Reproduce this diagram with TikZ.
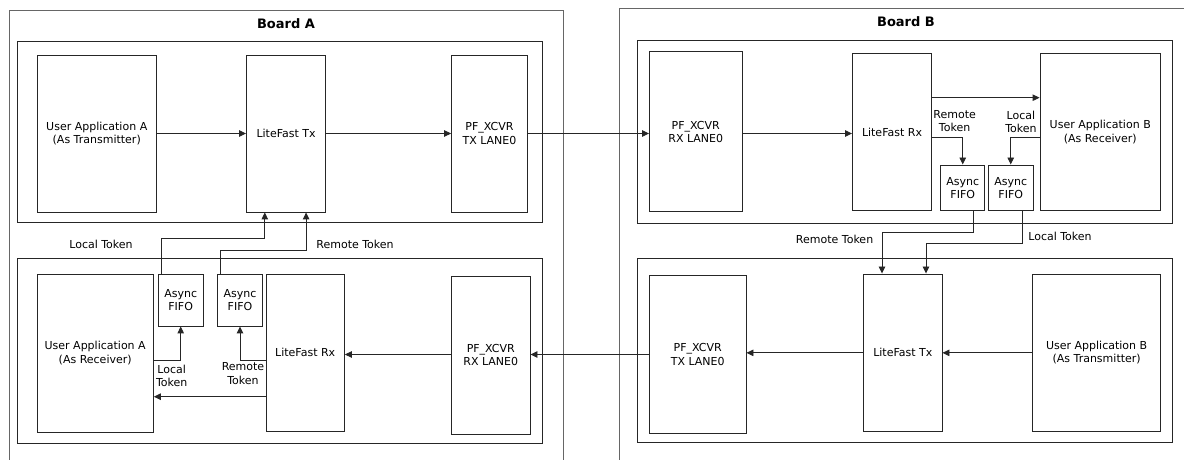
\documentclass[tikz,border=0pt]{standalone}
\usepackage{fontspec}
\setmainfont{DejaVu Sans}
\usetikzlibrary{arrows.meta}

\begin{document}
\begin{tikzpicture}[x=1bp,y=-1bp]
\tikzset{block style/.style={shape=rectangle,draw=black!85,line width=0.9bp,inner sep=0pt,align=center,font=\fontsize{11bp}{13.3bp}\selectfont}}
\tikzset{label style/.style={inner sep=0pt,align=center,font=\fontsize{11bp}{13.3bp}\selectfont}}
\tikzset{frame style/.style={draw=black!85,line width=0.9bp}}
\tikzset{board style/.style={draw=black!60,line width=0.9bp}}
\tikzset{link style/.style={draw=black!85,line width=0.9bp,->,>={Triangle[length=7bp,width=6.5bp]}}}

\useasboundingbox (0,0) rectangle (1184,460);

% boards
\draw[board style] (9.5,462) |- (563.5,10) -- (563.5,462);
\draw[board style] (619.5,462) |- (1186,8);
\node[font=\bfseries\fontsize{13bp}{15bp}\selectfont] at (286,24)  (boardA) {Board A};
\node[font=\bfseries\fontsize{13bp}{15bp}\selectfont] at (906,21.7) (boardB) {Board B};

\draw[frame style] (17.2,41.7) rectangle (542.7,222.7);
\draw[frame style] (17.2,258.5) rectangle (542.7,443.5);
\draw[frame style] (637,40) rectangle (1172.5,223);
\draw[frame style] (637,258.3) rectangle (1172.5,442.3);

% board A, top
\node[block style, minimum width=119.5bp, minimum height=157bp] at (96.75,133.5) (uaTxA) {User Application A\\(As Transmitter)};
\node[block style, minimum width=79.2bp,  minimum height=157bp] at (286.1,133.5) (lfTxA) {LiteFast Tx};
\node[block style, minimum width=75.8bp,  minimum height=157bp] at (489.5,133.5) (pfTxA) {PF\_XCVR\\TX LANE0};

% board A, bottom
\node[block style, minimum width=116.3bp, minimum height=158bp]   at (95.2,353)    (uaRxA)  {User Application A\\(As Receiver)};
\node[block style, minimum width=45.3bp,  minimum height=52bp]    at (180.7,300)   (fifoA1) {Async\\FIFO};
\node[block style, minimum width=45.4bp,  minimum height=52bp]    at (240,300)     (fifoA2) {Async\\FIFO};
\node[block style, minimum width=78.4bp,  minimum height=157.3bp] at (305.2,352.7) (lfRxA)  {LiteFast Rx};
\node[block style, minimum width=78.4bp,  minimum height=157.3bp] at (490.8,355.3) (pfRxA)  {PF\_XCVR\\RX LANE0};

% board B, top
\node[block style, minimum width=92.5bp,  minimum height=160bp]   at (695.75,131.7) (pfRxB)  {PF\_XCVR\\RX LANE0};
\node[block style, minimum width=79bp,    minimum height=157.4bp] at (892,132)      (lfRxB)  {LiteFast Rx};
\node[block style, minimum width=120.5bp, minimum height=157.4bp] at (1100.25,132)  (uaRxB)  {User Application B\\(As Receiver)};
\node[block style, minimum width=43.9bp,  minimum height=45.7bp]  at (962.75,187.85) (fifoB1) {Async\\FIFO};
\node[block style, minimum width=44.5bp,  minimum height=45.7bp]  at (1010.75,187.85) (fifoB2) {Async\\FIFO};

% board B, bottom
\node[block style, minimum width=96.5bp,  minimum height=157.6bp] at (697.75,354.5)  (pfTxB) {PF\_XCVR\\TX LANE0};
\node[block style, minimum width=78.3bp,  minimum height=157.7bp] at (902.85,352.85) (lfTxB) {LiteFast Tx};
\node[block style, minimum width=127.7bp, minimum height=157.7bp] at (1096.65,352.85) (uaTxB) {User Application B\\(As Transmitter)};

% token labels
\node[label style] at (101,244)     (localA)   {Local Token};
\node[label style] at (355,244)     (remoteA)  {Remote Token};
\node[label style] at (171.7,376)   (localA2)  {Local\\Token};
\node[label style] at (243,373.5)   (remoteA2) {Remote\\Token};
\node[label style] at (954.6,121)   (remoteB)  {Remote\\Token};
\node[label style] at (1020.9,122)  (localB)   {Local\\Token};
\node[label style] at (834.6,239.3) (remoteB2) {Remote Token};
\node[label style] at (1060,236)    (localB2)  {Local Token};

% data path A -> B
\draw[link style] (uaTxA) -- (lfTxA);
\draw[link style] (lfTxA) -- (pfTxA);
\draw[link style] (pfTxA) -- (pfTxA -| pfRxB.west);
\draw[link style] (pfRxB.east |- pfTxA) -- (lfRxB.west |- pfTxA);
\coordinate (lfRxBout) at ([yshift=34.3bp]lfRxB.east);
\draw[link style] (lfRxBout) -- (lfRxBout -| uaRxB.west);
\draw[link style] ([yshift=-5.7bp]lfRxB.east) -| (fifoB1.north);
\draw[link style] ([yshift=-5.7bp]uaRxB.west) -| (fifoB2.north);
\draw[link style] ([xshift=10.85bp]fifoB1.south) -- ++(0,21.3) -| ([xshift=-20.85bp]lfTxB.north);
\draw[link style] ([xshift=11.25bp]fifoB2.south) -- ++(0,32.3) -| ([xshift=23.15bp]lfTxB.north);

% data path B -> A
\draw[link style] (uaTxB) -- (lfTxB);
\draw[link style] (lfTxB.west) -- (lfTxB.west -| pfTxB.east);
\draw[link style] (pfTxB.west) -- (pfTxB.west -| pfRxA.east);
\draw[link style] (pfRxA.west |- pfTxB.west) -- (lfRxA.east |- pfTxB.west);
\draw[link style] ([yshift=-7.3bp]lfRxA.west) -| (fifoA2.south);
\draw[link style] ([yshift=-7bp]uaRxA.east) -| (fifoA1.south);
\coordinate (lfRxAout) at ([yshift=-44bp]lfRxA.west);
\draw[link style] (lfRxAout) -- (lfRxAout -| uaRxA.east);
\draw[link style] ([xshift=-19.4bp]fifoA1.north) -- ++(0,-34.7) -| ([xshift=-21.3bp]lfTxA.south);
\draw[link style] ([xshift=-20bp]fifoA2.north) -- ++(0,-23) -| ([xshift=20bp]lfTxA.south);
\end{tikzpicture}
\end{document}
